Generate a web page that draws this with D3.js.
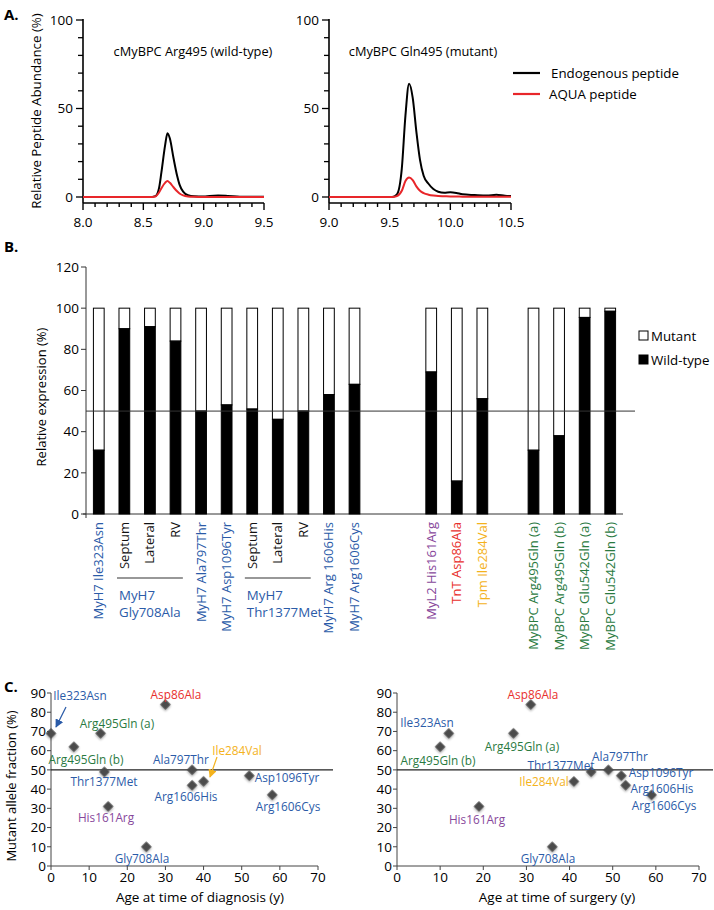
<!DOCTYPE html>
<html><head><meta charset="utf-8">
<script src="https://cdn.jsdelivr.net/npm/d3@7"></script>
<style>
body{margin:0;background:#fff;}
svg{font-family:"Open Sans",sans-serif;}
</style></head>
<body><svg id="c" width="714" height="910"></svg>
<script>
// ---------- Panel A data ----------
const wtTime   = [8.0,8.3,8.55,8.6,8.63,8.65,8.68,8.7,8.72,8.75,8.78,8.8,8.83,8.87,8.92,9.0,9.05,9.12,9.2,9.3,9.5];
const wtEndo   = [0,0,0,0.5,5,14,29,36,33,22,12,7,3,1,0.4,0.3,0.6,0.8,0.6,0.2,0.1];
const wtAqua   = [0,0,0,0.3,2.5,5,8,9,8,5.5,3.2,2,0.9,0.3,0.1,0,0,0,0,0,0];
const mutTime  = [9.0,9.3,9.52,9.56,9.6,9.63,9.66,9.69,9.72,9.75,9.78,9.82,9.86,9.9,9.95,10.0,10.05,10.1,10.2,10.3,10.38,10.45,10.5];
const mutEndo  = [0,0,0,1.5,16,46,64,56,37,21,12,7.5,4.5,3,2.4,2.7,2.3,1.5,1.1,0.8,1.3,0.7,0.5];
const mutAqua  = [0,0,0,0.5,3.5,9,11,9.5,6,3.5,2.2,1.3,0.8,0.5,0.4,0.3,0.3,0.2,0.2,0.2,0.2,0.2,0.2];
const chromTitles = ["cMyBPC Arg495 (wild-type)","cMyBPC Gln495 (mutant)"];
const chromLegend = ["Endogenous peptide","AQUA peptide"];

// ---------- Panel B data ----------
const barLabels = ["MyH7 Ile323Asn","Septum","Lateral","RV","MyH7 Ala797Thr","MyH7 Asp1096Tyr","Septum","Lateral","RV","MyH7 Arg 1606His","MyH7 Arg1606Cys","","","MyL2 His161Arg","TnT Asp86Ala","Tpm Ile284Val","","MyBPC Arg495Gln (a)","MyBPC Arg495Gln (b)","MyBPC Glu542Gln (a)","MyBPC Glu542Gln (b)"];
const barWildType = [31,90,91,84,50,53,51,46,50,58,63,null,null,69,16,56,null,31,38,95.5,98.5];
const barLabelGroup = ["blue","black","black","black","blue","blue","black","black","black","blue","blue","","","purple","red","orange","","green","green","green","green"];
const barYTicks = [0,20,40,60,80,100,120];

// ---------- Panel C data ----------
const mutNames   = ["Ile323Asn","Arg495Gln (b)","Arg495Gln (a)","Thr1377Met","His161Arg","Gly708Ala","Asp86Ala","Ala797Thr","Arg1606His","Ile284Val","Asp1096Tyr","Arg1606Cys"];
const mutGroup   = ["blue","green","green","blue","purple","blue","red","blue","blue","orange","blue","blue"];
const mutFraction= [69,62,69,49,31,10,84,50,42,44,47,37];
const ageDiagnosis = [0,6,13,14,15,25,30,37,37,40,52,58];
const ageSurgery   = [12,10,27,45,19,36,31,49,53,41,52,59];
const scatterXTicks = [0,10,20,30,40,50,60,70];
const scatterYTicks = [0,10,20,30,40,50,60,70,80,90];

const colors = {blue:"#2b5ba8",green:"#2a7a3f",purple:"#87479b",red:"#e8302c",orange:"#f4b21c",black:"#111"};

const svg = d3.select("#c");

// panel letters
[["A.",4,20],["B.",4,252],["C.",4,692]].forEach(([t,x,y])=>
  svg.append("text").attr("x",x).attr("y",y).attr("font-size",15).attr("font-weight","bold").text(t));

// ======== Panel A ========
function chrom(x0,x1,dom,time,endo,aqua,title,titleX){
  const g = svg.append("g");
  const x = d3.scaleLinear().domain(dom).range([x0,x1]);
  const y = d3.scaleLinear().domain([0,100]).range([197,20]);
  g.append("line").attr("x1",x0).attr("x2",x0).attr("y1",19).attr("y2",203).attr("stroke","#000").attr("stroke-width",1.6);
  d3.range(0,101,10).forEach(v=>{
    g.append("line").attr("x1",x0-(v%50===0?7:5)).attr("x2",x0).attr("y1",y(v)).attr("y2",y(v)).attr("stroke","#000").attr("stroke-width",1.3);
  });
  [0,50,100].forEach(v=>g.append("text").attr("x",x0-10).attr("y",y(v)).attr("dy","0.35em").attr("text-anchor","end").attr("font-size",13.5).text(v));
  g.append("line").attr("x1",x0).attr("x2",x1).attr("y1",203).attr("y2",203).attr("stroke","#000").attr("stroke-width",1.6);
  const tks = d3.range(0,16).map(i=>dom[0]+i*0.1);
  tks.forEach((v,i)=>{
    g.append("line").attr("x1",x(v)).attr("x2",x(v)).attr("y1",203).attr("y2",203+(i%5===0?7:4)).attr("stroke","#000").attr("stroke-width",1.4);
  });
  [0,5,10,15].forEach(i=>g.append("text").attr("x",x(tks[i])).attr("y",227).attr("text-anchor","middle").attr("font-size",13.5).text(d3.format(".1f")(tks[i])));
  const line = d3.line().x((d,i)=>x(time[i])).y(d=>y(d)).curve(d3.curveMonotoneX);
  g.append("path").attr("d",line(endo)).attr("fill","none").attr("stroke","#000").attr("stroke-width",2);
  g.append("path").attr("d",line(aqua)).attr("fill","none").attr("stroke","#e8262a").attr("stroke-width",2);
  g.append("text").attr("x",titleX).attr("y",56).attr("text-anchor","middle").attr("font-size",12.8).text(title);
}
chrom(83,264,[8,9.5],wtTime,wtEndo,wtAqua,chromTitles[0],193);
chrom(329,511,[9,10.5],mutTime,mutEndo,mutAqua,chromTitles[1],423);
svg.append("text").attr("transform","translate(41,111) rotate(-90)").attr("text-anchor","middle").attr("font-size",13.3).text("Relative Peptide Abundance (%)");
[["#000",73,551],["#e8262a",94,549]].forEach(([c,yy,tx],i)=>{
  svg.append("line").attr("x1",513).attr("x2",540).attr("y1",yy).attr("y2",yy).attr("stroke",c).attr("stroke-width",2.2);
  svg.append("text").attr("x",tx).attr("y",yy).attr("dy","0.35em").attr("font-size",13.3).text(chromLegend[i]);
});

// ======== Panel B ========
const bx = d3.scaleBand().domain(d3.range(barLabels.length)).range([86,623]).paddingInner(0.58).paddingOuter(0.29);
const by = d3.scaleLinear().domain([0,120]).range([514,267]);
const gb = svg.append("g");
gb.append("line").attr("x1",86).attr("x2",86).attr("y1",267).attr("y2",518).attr("stroke","#333").attr("stroke-width",1);
gb.append("line").attr("x1",83).attr("x2",623).attr("y1",514).attr("y2",514).attr("stroke","#333").attr("stroke-width",1);
barYTicks.forEach(v=>{
  gb.append("line").attr("x1",81).attr("x2",86).attr("y1",by(v)).attr("y2",by(v)).attr("stroke","#333");
  gb.append("text").attr("x",79).attr("y",by(v)).attr("dy","0.35em").attr("text-anchor","end").attr("font-size",13.5).text(v);
});
barWildType.forEach((v,i)=>{
  if(v===null) return;
  gb.append("rect").attr("x",bx(i)).attr("width",bx.bandwidth()).attr("y",by(100)).attr("height",by(v)-by(100)).attr("fill","#fff").attr("stroke","#000").attr("stroke-width",1);
  gb.append("rect").attr("x",bx(i)).attr("width",bx.bandwidth()).attr("y",by(v)).attr("height",by(0)-by(v)).attr("fill","#000").attr("stroke","#000").attr("stroke-width",1);
});
gb.append("line").attr("x1",86).attr("x2",635).attr("y1",by(50)).attr("y2",by(50)).attr("stroke","#333").attr("stroke-width",1);
svg.append("text").attr("transform","translate(46,397) rotate(-90)").attr("text-anchor","middle").attr("font-size",13).text("Relative expression (%)");
barLabels.forEach((t,i)=>{
  if(!t) return;
  gb.append("text").attr("transform",`translate(${bx(i)+bx.bandwidth()/2},522) rotate(-90)`)
    .attr("dy","0.35em").attr("text-anchor","end").attr("font-size",13).attr("fill",colors[barLabelGroup[i]]).text(t);
});
[[1,3,"Gly708Ala"],[6,8,"Thr1377Met"]].forEach(([a,b,name])=>{
  const xa = bx(a)-2, xb = bx(b)+bx.bandwidth()+2;
  gb.append("line").attr("x1",xa).attr("x2",xb).attr("y1",578).attr("y2",578).attr("stroke","#333").attr("stroke-width",1.2);
  gb.append("text").attr("x",xa+2).attr("y",600).attr("font-size",13.3).attr("fill",colors.blue).text("MyH7");
  gb.append("text").attr("x",xa+2).attr("y",617).attr("font-size",13.3).attr("fill",colors.blue).text(name);
});
[["Mutant","#fff",336],["Wild-type","#000",360]].forEach(([t,f,yy])=>{
  svg.append("rect").attr("x",639).attr("y",yy-5).attr("width",9).attr("height",9).attr("fill",f).attr("stroke","#000").attr("stroke-width",1);
  svg.append("text").attr("x",651).attr("y",yy).attr("dy","0.35em").attr("font-size",13.3).text(t);
});

// ======== Panel C ========
const defs = svg.append("defs");
defs.append("filter").attr("id","sh").attr("x","-50%").attr("y","-50%").attr("width","200%").attr("height","200%")
  .append("feDropShadow").attr("dx",1).attr("dy",1).attr("stdDeviation",1.2).attr("flood-color","#000").attr("flood-opacity",0.35);
["blue","orange"].forEach(c=>{
  defs.append("marker").attr("id","ar-"+c).attr("viewBox","0 0 10 10").attr("refX",9).attr("refY",5)
    .attr("markerWidth",7).attr("markerHeight",7).attr("orient","auto")
    .append("path").attr("d","M0,0L10,5L0,10z").attr("fill",colors[c]);
});

function scatter(x0,x1,lineEnd,ages,labelPos,title,titleX,arrows){
  const g = svg.append("g");
  const x = d3.scaleLinear().domain([0,70]).range([x0,x1]);
  const y = d3.scaleLinear().domain([0,90]).range([866,693]);
  g.append("line").attr("x1",x0).attr("x2",x0).attr("y1",693).attr("y2",866).attr("stroke","#444");
  g.append("line").attr("x1",x0).attr("x2",x1).attr("y1",866).attr("y2",866).attr("stroke","#444");
  scatterYTicks.forEach(v=>{
    g.append("line").attr("x1",x0-4).attr("x2",x0).attr("y1",y(v)).attr("y2",y(v)).attr("stroke","#444");
    g.append("text").attr("x",x0-5).attr("y",y(v)).attr("dy","0.35em").attr("text-anchor","end").attr("font-size",13.5).text(v);
  });
  scatterXTicks.forEach(v=>{
    g.append("line").attr("x1",x(v)).attr("x2",x(v)).attr("y1",866).attr("y2",870).attr("stroke","#444");
    g.append("text").attr("x",x(v)).attr("y",882).attr("text-anchor","middle").attr("font-size",13.5).text(v);
  });
  g.append("line").attr("x1",x0).attr("x2",lineEnd).attr("y1",y(50)).attr("y2",y(50)).attr("stroke","#222").attr("stroke-width",1.1);
  g.append("text").attr("x",titleX).attr("y",902).attr("text-anchor","middle").attr("font-size",13.5).text(title);
  const sym = d3.symbol().type(d3.symbolSquare).size(56);
  ages.forEach((a,i)=>{
    g.append("path").attr("d",sym()).attr("transform",`translate(${x(a)},${y(mutFraction[i])}) rotate(45)`)
      .attr("fill","#4b4b4b").attr("filter","url(#sh)");
  });
  mutNames.forEach((n,i)=>{
    const [lx,ly] = labelPos[i];
    g.append("text").attr("x",lx).attr("y",ly).attr("dy","0.35em").attr("text-anchor","middle").attr("font-size",11.8)
      .attr("fill",colors[mutGroup[i]]).text(n);
  });
  (arrows||[]).forEach(([xa,ya,xb,yb,c])=>{
    g.append("line").attr("x1",xa).attr("y1",ya).attr("x2",xb).attr("y2",yb).attr("stroke",colors[c]).attr("stroke-width",1.2).attr("marker-end",`url(#ar-${c})`);
  });
}
// label positions (pixel placement of annotation text)
const labelsDiag = [[80,696],[86,760],[117,724],[104,782],[106,818],[142,859],[176,695],[181,760],[186,797],[237,751],[287,778],[288,807]];
const labelsSurg = [[427,723],[438,761],[522,747],[561,766],[477,820],[548,859],[533,695],[620,757],[662,789],[544,782],[661,773],[664,806]];
scatter(51,318,333,ageDiagnosis,labelsDiag,"Age at time of diagnosis (y)",200,[[66,707,56,727,"blue"],[217,757,210,777,"orange"]]);
scatter(397,699,713,ageSurgery,labelsSurg,"Age at time of surgery (y)",557,[]);
svg.append("text").attr("transform","translate(16,786) rotate(-90)").attr("text-anchor","middle").attr("font-size",13).text("Mutant allele fraction (%)");
</script></body></html>
